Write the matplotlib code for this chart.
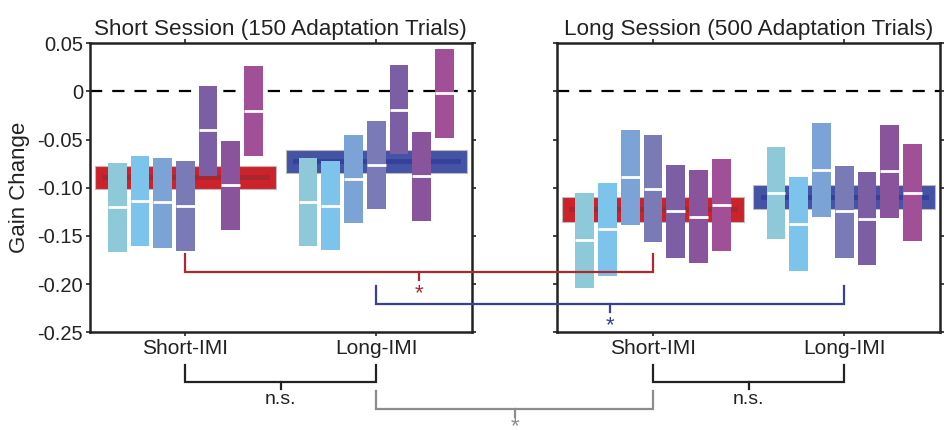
import matplotlib
matplotlib.use('Agg')
import matplotlib.pyplot as plt
import numpy as np
from matplotlib.lines import Line2D

plt.rcParams['font.family'] = ['Liberation Sans', 'DejaVu Sans']

# bar data: [top, median, bottom] per subject-group, 7 bars per condition
short_sess_short_imi_top = [-0.074, -0.067, -0.069, -0.072, 0.006, -0.051, 0.026]
short_sess_short_imi_med = [-0.120, -0.114, -0.115, -0.119, -0.040, -0.097, -0.020]
short_sess_short_imi_bot = [-0.167, -0.160, -0.162, -0.166, -0.088, -0.144, -0.067]

short_sess_long_imi_top = [-0.069, -0.072, -0.045, -0.031, 0.027, -0.042, 0.044]
short_sess_long_imi_med = [-0.115, -0.119, -0.091, -0.076, -0.019, -0.088, -0.002]
short_sess_long_imi_bot = [-0.160, -0.165, -0.137, -0.122, -0.065, -0.134, -0.048]

long_sess_short_imi_top = [-0.105, -0.095, -0.040, -0.045, -0.076, -0.082, -0.070]
long_sess_short_imi_med = [-0.154, -0.143, -0.089, -0.101, -0.124, -0.130, -0.118]
long_sess_short_imi_bot = [-0.204, -0.192, -0.139, -0.156, -0.173, -0.178, -0.166]

long_sess_long_imi_top = [-0.058, -0.089, -0.033, -0.077, -0.084, -0.035, -0.055]
long_sess_long_imi_med = [-0.105, -0.138, -0.082, -0.124, -0.132, -0.083, -0.105]
long_sess_long_imi_bot = [-0.153, -0.186, -0.130, -0.173, -0.180, -0.131, -0.155]

# group mean bands: [top, mean, bottom]
short_sess_bands = {'Short-IMI': [-0.077, -0.089, -0.1015], 'Long-IMI': [-0.061, -0.072, -0.085]}
long_sess_bands = {'Short-IMI': [-0.110, -0.1225, -0.135], 'Long-IMI': [-0.0975, -0.1095, -0.122]}

conditions = ['Short-IMI', 'Long-IMI']
titles = ['Short Session (150 Adaptation Trials)', 'Long Session (500 Adaptation Trials)']
yticks = [0.05, 0, -0.05, -0.10, -0.15, -0.20, -0.25]
ytick_labels = ['0.05', '0', '-0.05', '-0.10', '-0.15', '-0.20', '-0.25']

bar_colors = ['#8DC9D9', '#7DC4EC', '#7CA3D6', '#7A7BB6', '#7B5EA3', '#89549B', '#A15097']
band_colors = {'Short-IMI': ('#CC2229', '#A8262E'), 'Long-IMI': ('#4453A3', '#34409A')}

fig = plt.figure(figsize=(9.45, 4.30), dpi=100)
ax1 = fig.add_axes([0.0952, 0.2272, 0.4039, 0.6721])
ax2 = fig.add_axes([0.5897, 0.2272, 0.4050, 0.6721])

panel_data = [
    (ax1, [(short_sess_short_imi_top, short_sess_short_imi_med, short_sess_short_imi_bot),
           (short_sess_long_imi_top, short_sess_long_imi_med, short_sess_long_imi_bot)], short_sess_bands),
    (ax2, [(long_sess_short_imi_top, long_sess_short_imi_med, long_sess_short_imi_bot),
           (long_sess_long_imi_top, long_sess_long_imi_med, long_sess_long_imi_bot)], long_sess_bands),
]

spacing = 0.119
bw = 0.098
offsets = (np.arange(7) - 3) * spacing

for i, (ax, groups, bands) in enumerate(panel_data):
    ax.set_xlim(0.5, 2.5)
    ax.set_ylim(-0.25, 0.05)
    ax.axhline(0, color='black', lw=1.6, linestyle=(0, (5.5, 4.5)), zorder=1)
    for g, cond in enumerate(conditions):
        xc = g + 1
        top, mean, bot = bands[cond]
        fc, lc = band_colors[cond]
        ax.bar(xc, top - bot, bottom=bot, width=0.95, color=fc, edgecolor='#bbbbbb',
               linewidth=0.8, zorder=2)
        ax.plot([xc - 0.427, xc + 0.427], [mean, mean], color=lc, lw=3.5, zorder=2.5)
        t, m, b = groups[g]
        xs = xc + offsets
        ax.bar(xs, np.array(t) - np.array(b), bottom=b, width=bw, color=bar_colors, zorder=3)
        for x, mv in zip(xs, m):
            ax.plot([x - bw / 2, x + bw / 2], [mv, mv], color='white', lw=2, zorder=4,
                    solid_capstyle='butt')
    ax.set_xticks([1, 2])
    ax.set_xticklabels(conditions, fontsize=15)
    ax.set_yticks(yticks)
    ax.tick_params(direction='out', length=3, width=1.2, top=True, right=True, pad=2,
                   colors='#222222', labelcolor='#222222')
    if i == 0:
        ax.set_yticklabels(ytick_labels, fontsize=14.5)
        ax.set_ylabel('Gain Change', fontsize=16, labelpad=5, color='#222222')
    else:
        ax.set_yticklabels([])
    for sp in ax.spines.values():
        sp.set_linewidth(1.8)
        sp.set_color('#222222')
    ax.set_title(titles[i], fontsize=16.2, pad=6, color='#222222')


def fig_pt(ax, x, y):
    return fig.transFigure.inverted().transform(ax.transData.transform((x, y)))


def bracket(ax_a, xa, ax_b, xb, y_end, y_bar, y_tick, y_star, color, label, fs, lw=1.6):
    p = [fig_pt(ax_a, xa, y_end), fig_pt(ax_a, xa, y_bar), fig_pt(ax_b, xb, y_bar), fig_pt(ax_b, xb, y_end)]
    fig.add_artist(Line2D([q[0] for q in p], [q[1] for q in p], color=color, lw=lw,
                          transform=fig.transFigure, solid_joinstyle='miter'))
    mx = (p[1][0] + p[2][0]) / 2
    t = fig_pt(ax_a, 1, y_tick)[1]
    fig.add_artist(Line2D([mx, mx], [p[1][1], t], color=color, lw=lw, transform=fig.transFigure))
    s = fig_pt(ax_a, 1, y_star)[1]
    fig.text(mx, s, label, color=color, ha='center', va='center', fontsize=fs)


# significance brackets between sessions
bracket(ax1, 1, ax2, 1, -0.169, -0.1875, -0.196, -0.210, '#B0282E', '*', 16)
bracket(ax1, 2, ax2, 2, -0.202, -0.2205, -0.229, -0.243, '#3A3F9A', '*', 16)
# within-session brackets below axes
bracket(ax1, 1, ax1, 2, -0.284, -0.302, -0.309, -0.320, '#222222', 'n.s.', 14)
bracket(ax2, 1, ax2, 2, -0.284, -0.302, -0.309, -0.320, '#222222', 'n.s.', 14)
bracket(ax1, 2, ax2, 1, -0.311, -0.330, -0.338, -0.348, '#8c8c8c', '*', 16)

fig.savefig('out.png', dpi=100)
